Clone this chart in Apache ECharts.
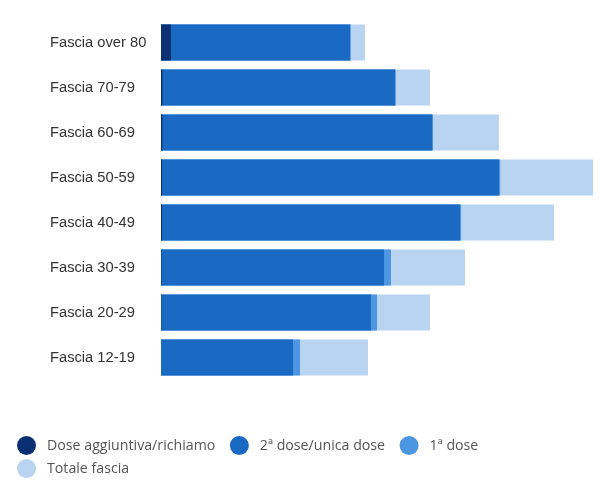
<!DOCTYPE html>
<html>
<head>
<meta charset="utf-8">
<script src="https://cdn.jsdelivr.net/npm/echarts@6/dist/echarts.min.js"></script>
<style>
  html, body { margin: 0; padding: 0; background: #fff; }
  #chart { width: 601px; height: 486px; }
</style>
</head>
<body>
<div id="chart"></div>
<script>
// fasce d'età, dall'alto verso il basso
const fasce = ["Fascia over 80", "Fascia 70-79", "Fascia 60-69", "Fascia 50-59",
  "Fascia 40-49", "Fascia 30-39", "Fascia 20-29", "Fascia 12-19"];
// valori in migliaia di persone (stimati dal grafico)
const totaleFascia = [4439, 5853, 7354, 9400, 8551, 6615, 5853, 4504];
const primaDose = [4130, 5110, 5920, 7380, 6530, 5004, 4700, 3024];
const secondaDose = [4112, 5091, 5897, 7354, 6506, 4852, 4569, 2872];
const doseAggiuntiva = [218, 33, 30, 25, 25, 8, 5, 0];

const colori = {
  agg: "#0b2f73",
  seconda: "#1a6ac3",
  prima: "#4d96e2",
  totale: "#b8d4f1",
};

const chart = echarts.init(document.getElementById("chart"));

const legendaBase = {
  left: 17,
  padding: 0,
  icon: "circle",
  itemWidth: 19,
  itemHeight: 19,
  itemGap: 14.5,
  textStyle: {
    color: "#555",
    fontSize: 14.2,
    fontFamily: "Open Sans, sans-serif",
    padding: [0, 0, 0, 6],
  },
};

const option = {
  animation: false,
  grid: { left: 161, right: 8, top: 20, bottom: 106 },
  xAxis: {
    type: "value",
    min: 0,
    max: "dataMax",
    show: false,
  },
  yAxis: {
    type: "category",
    data: fasce,
    inverse: true,
    axisLine: { show: false },
    axisTick: { show: false },
    splitLine: { show: false },
    axisLabel: {
      align: "left",
      margin: 111,
      color: "#333",
      fontSize: 14.7,
      fontFamily: "Liberation Sans, Arial, sans-serif",
    },
  },
  legend: [
    Object.assign({}, legendaBase, {
      top: 436,
      data: ["Dose aggiuntiva/richiamo", "2ª dose/unica dose", "1ª dose"],
    }),
    Object.assign({}, legendaBase, {
      top: 459,
      data: ["Totale fascia"],
    }),
  ],
  series: [
    {
      name: "Totale fascia",
      type: "bar",
      data: totaleFascia,
      barCategoryGap: "20%",
      barGap: "-100%",
      itemStyle: { color: colori.totale },
    },
    {
      name: "1ª dose",
      type: "bar",
      data: primaDose,
      barGap: "-100%",
      itemStyle: { color: colori.prima },
    },
    {
      name: "2ª dose/unica dose",
      type: "bar",
      data: secondaDose,
      barGap: "-100%",
      itemStyle: { color: colori.seconda },
    },
    {
      name: "Dose aggiuntiva/richiamo",
      type: "bar",
      data: doseAggiuntiva,
      barGap: "-100%",
      itemStyle: { color: colori.agg },
    },
  ],
};

chart.setOption(option);
</script>
</body>
</html>
